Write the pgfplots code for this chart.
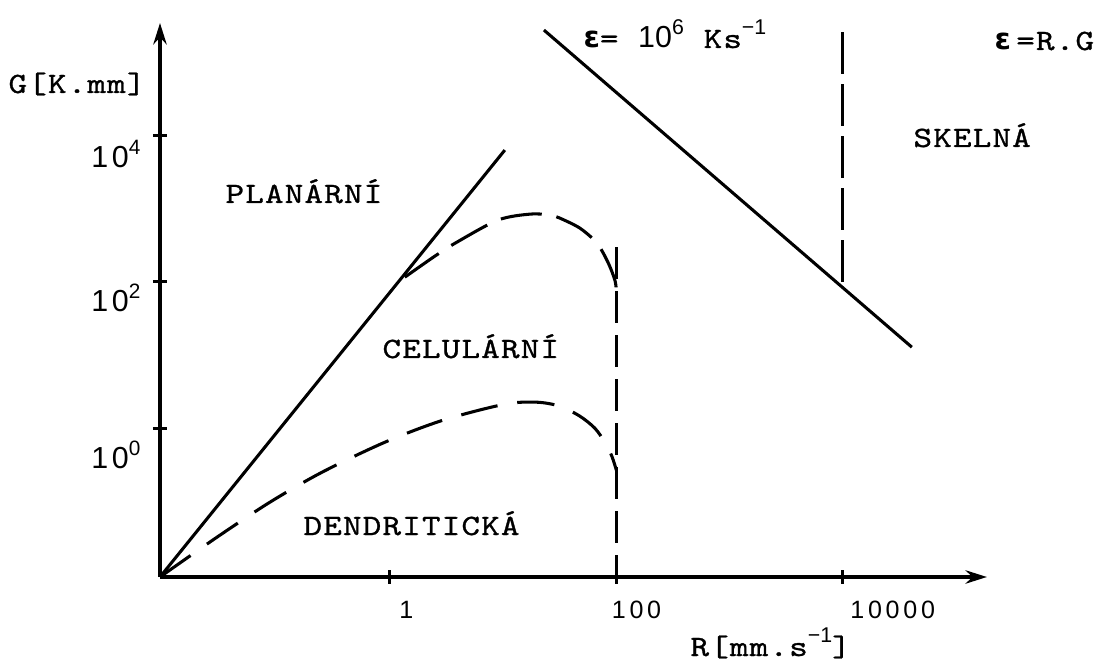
\documentclass[border=0pt]{standalone}
\usepackage{fontspec}
\usepackage{pgfplots}
\pgfplotsset{compat=1.18}
\usetikzlibrary{arrows.meta}

% typewriter lettering and sans-serif numerals
\newfontfamily\tw{lmmono10-regular.otf}[FakeStretch=1.2, LetterSpace=4, FakeBold=1]
\newfontfamily\ts{Liberation Sans}
\newfontfamily\tsx{Liberation Sans}[LetterSpace=15]
\newfontfamily\tsy{Liberation Sans}[LetterSpace=12]
\newfontfamily\grk{DejaVu Sans}
\newcommand\lab{\tw\fontsize{11.05pt}{13pt}\selectfont}
\newcommand\beps{{\grk\bfseries ε}}
\newcommand\yl[2]{\raisebox{#1}{\tsy\fontsize{11.4pt}{12pt}\selectfont 10\raisebox{4.9pt}{\fontsize{7.8pt}{8pt}\selectfont #2}}}
\newcommand\supx[1]{\raisebox{5pt}{\ts\fontsize{8pt}{9pt}\selectfont #1}}

\begin{document}
\begin{tikzpicture}
\begin{axis}[
  scale only axis, width=310.1pt, height=207.75pt,
  xmode=log, ymode=log,
  xmin=0.009333, xmax=187100, ymin=0.009333, ymax=338100,
  axis lines=left,
  axis line style={line width=1.5pt, -{Stealth[length=8pt,width=5pt]}},
  xtick={1,100,10000}, ytick={1,100,10000},
  xminorticks=false, yminorticks=false,
  tick align=center, major tick length=5.25pt,
  every tick/.style={black, line width=1.1pt},
  xticklabels={{\hspace*{5.25pt}1},{100},{\hspace*{4.5pt}10000}},
  yticklabels={{\yl{-3.75pt}{0}},{\yl{0pt}{2}},{\yl{-1.1pt}{4}}},
  xticklabel style={anchor=base west, inner sep=0pt, xshift=-1.9pt, yshift=-13.1pt,
    font=\tsx\fontsize{9.4pt}{10pt}\selectfont},
  yticklabel style={anchor=base east, inner sep=0pt, xshift=-4.5pt, yshift=-11.25pt},
  clip=false,
]
% solidification limits
\addplot[line width=1.15pt] coordinates {(0.009333,0.009333) (10.35,6237)};
\addplot[line width=1.15pt] coordinates {(22.91,271000) (40640,12.76)};
% cellular / dendritic boundaries
\addplot[line width=1.15pt, smooth, dash pattern=on 15.5pt off 5.6pt] coordinates {
  (1.355,115.1) (2.495,222.8) (3.908,345.9) (8.995,691.8) (17.22,833.7)
  (26.92,809.1) (31.70,736.2) (47.62,537.0) (67.30,335.7) (84.14,184.5)
  (97.04,104.7) (100,74.1)};
\addplot[line width=1.15pt, smooth, dash pattern=on 14pt off 7.5pt] coordinates {
  (0.009333,0.009333) (0.02965,0.03251) (0.08710,0.09772) (0.2512,0.2506)
  (0.9036,0.6442) (2.938,1.285) (10.35,2.128) (19.86,2.265) (31.70,1.995)
  (47.62,1.459) (64.57,1.0) (79.07,0.644) (91.20,0.415) (100,0.267)};
\addplot[line width=1.15pt, dash pattern=on 12pt off 4.5pt] coordinates {(100,296) (100,0.009333)};
\addplot[line width=1.15pt, dash pattern=on 15.75pt off 3.75pt] coordinates {(10000,254700) (10000,83)};
\coordinate (O) at (rel axis cs:0,0);
\end{axis}
\pgfresetboundingbox
\path[use as bounding box] ([shift={(-60pt,-32.625pt)}]O) rectangle ([shift={(352.5pt,216.375pt)}]O);
\coordinate (TL) at ([shift={(-60pt,216.375pt)}]O);
\begin{scope}[shift={(TL)}, x=0.375pt, y=-0.375pt]
  \tikzset{every node/.style={anchor=base west, inner sep=0pt}}
  \node at (8,93) {\lab G[K.mm]};
  \node at (690,656) {\lab R[mm.s\supx{−1}]};
  \node at (225,203) {\lab PLANÁRNÍ};
  \node at (382,358) {\lab CELULÁRNÍ};
  \node at (303,535) {\lab DENDRITICKÁ};
  \node at (913,147) {\lab SKELNÁ};
  \node at (583,48) {\lab\beps= {\ts\fontsize{11.4pt}{12pt}\selectfont 10\raisebox{5pt}{\fontsize{8pt}{9pt}\selectfont 6}} Ks\supx{−1}};
  \node at (994,50) {\lab\beps\kern2pt=R.G};
\end{scope}
\end{tikzpicture}
\end{document}
